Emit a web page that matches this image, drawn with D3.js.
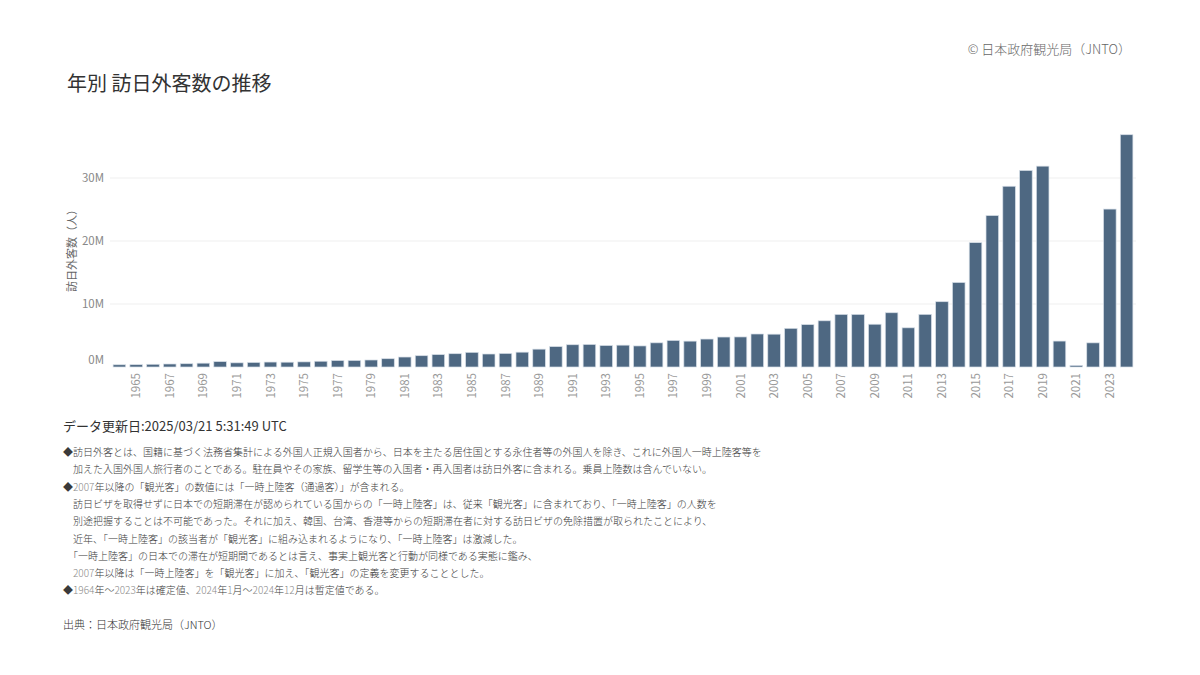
<!DOCTYPE html>
<html lang="ja">
<head>
  <meta charset="UTF-8">
  <title>年別 訪日外客数の推移</title>
  <script src="https://d3js.org/d3.v7.min.js"></script>
  <style>
    body { margin: 0; background: #fff; }
    svg text { font-family: "Noto Sans CJK JP", "Noto Sans", sans-serif; }
  </style>
</head>
<body>
  <svg id="chart" width="1200" height="675"></svg>
  <script>
    // 1964 - 2024
    const years = d3.range(1964, 2025);
    const visitors = [
      352832, 366649, 432937, 476771, 519004, 608741, 854419, 660715, 723744, 784691,
      764246, 811672, 914772, 1028140, 1038876, 1112606, 1316632, 1583043, 1793164, 1968461,
      2110346, 2327047, 2061526, 2154864, 2355412, 2835064, 3235860, 3532651, 3581540, 3410447,
      3468055, 3345274, 3837113, 4218208, 4106057, 4437863, 4757146, 4771555, 5238963, 5211725,
      6137905, 6727926, 7334077, 8346969, 8350835, 6789658, 8611175, 6218752, 8358105, 10363904,
      13413467, 19737409, 24039700, 28691073, 31191856, 31882049, 4115828, 245862, 3832110, 25066350,
      36869900
    ];
    const yTicks = [0, 10e6, 20e6, 30e6];
    const xTickYears = years.filter(y => y % 2 === 1);

    const notes = [
      "◆訪日外客とは、国籍に基づく法務省集計による外国人正規入国者から、日本を主たる居住国とする永住者等の外国人を除き、これに外国人一時上陸客等を",
      "　加えた入国外国人旅行者のことである。駐在員やその家族、留学生等の入国者・再入国者は訪日外客に含まれる。乗員上陸数は含んでいない。",
      "◆2007年以降の「観光客」の数値には「一時上陸客（通過客）」が含まれる。",
      "　訪日ビザを取得せずに日本での短期滞在が認められている国からの「一時上陸客」は、従来「観光客」に含まれており、「一時上陸客」の人数を",
      "　別途把握することは不可能であった。それに加え、韓国、台湾、香港等からの短期滞在者に対する訪日ビザの免除措置が取られたことにより、",
      "　近年、「一時上陸客」の該当者が「観光客」に組み込まれるようになり、「一時上陸客」は激減した。",
      "　「一時上陸客」の日本での滞在が短期間であるとは言え、事実上観光客と行動が同様である実態に鑑み、",
      "　2007年以降は「一時上陸客」を「観光客」に加え、「観光客」の定義を変更することとした。",
      "◆1964年～2023年は確定値、2024年1月～2024年12月は暫定値である。"
    ];

    const svg = d3.select("#chart");
    const data = years.map((y, i) => ({ year: y, value: visitors[i] }));

    const x = d3.scaleBand()
      .domain(years)
      .range([111, 1135])
      .paddingInner(0.25)
      .paddingOuter(0.125);

    const y = d3.scaleLinear()
      .domain([0, 30e6])
      .range([367, 178]);

    // header
    svg.append("text")
      .attr("x", 1131).attr("y", 54)
      .attr("text-anchor", "end")
      .attr("font-size", 13)
      .attr("font-weight", 300)
      .attr("fill", "#666")
      .text("© 日本政府観光局（JNTO）");

    svg.append("text")
      .attr("x", 67).attr("y", 91)
      .attr("font-size", 20)
      .attr("fill", "#333")
      .text("年別 訪日外客数の推移");

    // gridlines
    svg.append("g")
      .selectAll("line")
      .data(yTicks.filter(d => d > 0))
      .join("line")
      .attr("x1", 110).attr("x2", 1136)
      .attr("y1", d => y(d)).attr("y2", d => y(d))
      .attr("stroke", "#efefef")
      .attr("stroke-width", 1);

    // y tick labels
    svg.append("g")
      .selectAll("text")
      .data(yTicks)
      .join("text")
      .attr("x", 104)
      .attr("y", d => d === 0 ? y(d) - 7 : y(d))
      .attr("dy", "0.35em")
      .attr("text-anchor", "end")
      .attr("font-size", 11.5)
      .attr("fill", "#888")
      .text(d => d3.format("d")(d / 1e6) + "M");

    svg.append("text")
      .attr("transform", "translate(76,248) rotate(-90)")
      .attr("text-anchor", "middle")
      .attr("font-size", 11)
      .attr("fill", "#666")
      .text("訪日外客数（人）");

    // bars
    svg.append("g")
      .selectAll("rect")
      .data(data)
      .join("rect")
      .attr("x", d => x(d.year))
      .attr("width", x.bandwidth())
      .attr("y", d => y(d.value))
      .attr("height", d => y(0) - y(d.value))
      .attr("fill", "#4e6882")
      .attr("stroke", "#d6dee7")
      .attr("stroke-width", 0.7);

    // x tick labels
    svg.append("g")
      .selectAll("text")
      .data(xTickYears)
      .join("text")
      .attr("transform", d => `translate(${x(d) + x.bandwidth() / 2},373) rotate(-90)`)
      .attr("dy", "0.35em")
      .attr("text-anchor", "end")
      .attr("font-size", 11.5)
      .attr("fill", "#999")
      .text(d => d);

    // footer texts
    svg.append("text")
      .attr("x", 63).attr("y", 431)
      .attr("font-size", 13)
      .attr("fill", "#333")
      .text("データ更新日:2025/03/21 5:31:49 UTC");

    const noteG = svg.append("g");
    notes.forEach((line, i) => {
      const t = noteG.append("text")
        .attr("x", 63)
        .attr("y", 456 + i * 17.3)
        .attr("font-size", 10)
        .attr("font-weight", 300)
        .attr("fill", "#3a3a3a");
      line.split(/(\d+)/).forEach(part => {
        if (!part) return;
        t.append("tspan")
          .attr("fill", /^\d+$/.test(part) ? "#8a8a8a" : "#3a3a3a")
          .text(part);
      });
    });

    svg.append("text")
      .attr("x", 63).attr("y", 629)
      .attr("font-size", 11)
      .attr("font-weight", 300)
      .attr("fill", "#333")
      .text("出典：日本政府観光局（JNTO）");
  </script>
</body>
</html>
